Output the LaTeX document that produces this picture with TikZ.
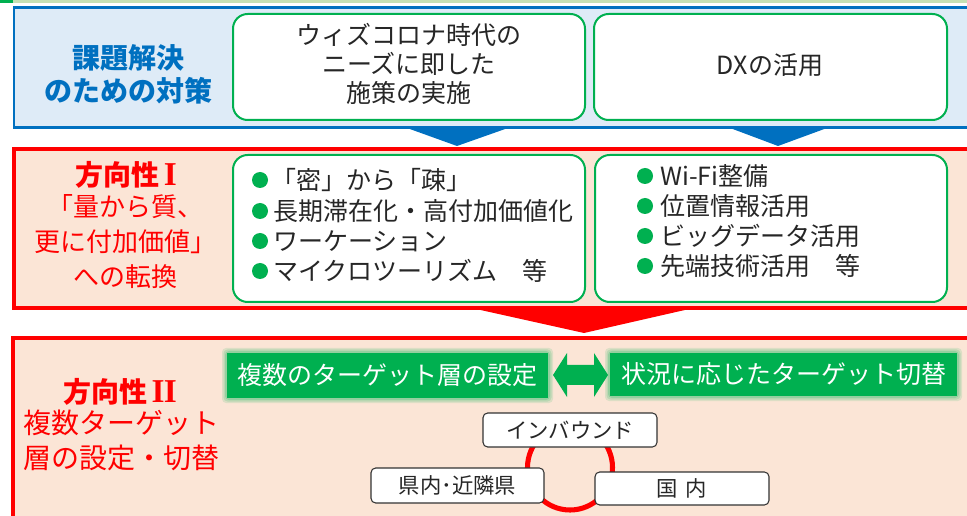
\documentclass[tikz,border=0pt]{standalone}
\usepackage{fontspec}
\setmainfont{Noto Sans CJK JP}
\newfontfamily\numfont{Liberation Serif}
\definecolor{cblue}{HTML}{0070C0}
\definecolor{cbluefill}{HTML}{DEEBF7}
\definecolor{cred}{HTML}{FF0000}
\definecolor{cpeach}{HTML}{FBE5D6}
\definecolor{cgreen}{HTML}{00B050}
\definecolor{clgreen}{HTML}{C5E0B4}
\definecolor{cdark}{HTML}{262626}
\newcommand{\romnum}[1]{{\numfont\bfseries\fontsize{25}{25}\selectfont #1}}
\begin{document}
\begin{tikzpicture}[x=0.75pt,y=-0.75pt,
  panelblue/.style={draw=cblue, line width=2.2pt, fill=cbluefill},
  panelred/.style={draw=cred, line width=2.5pt, fill=cpeach},
  gbox/.style={draw=cgreen, line width=1.5pt, fill=white, rounded corners=11pt, inner sep=0pt},
  bodytext/.style={text=cdark, font=\fontsize{18.75}{21.75}\selectfont, inner sep=0pt},
  bullettext/.style={bodytext, anchor=west},
  bdot/.style={fill=cgreen, draw=none, circle, minimum size=12pt, inner sep=0pt},
  cyc/.style={draw=black!80, line width=0.8pt, fill=white, rounded corners=3.5pt, inner sep=0pt,
     minimum width=130.5pt, minimum height=25.5pt, text=cdark, font=\fontsize{16}{18}\selectfont},
  glowbox/.style={fill=cgreen, inner sep=0pt, text=white, font=\fontsize{18.75}{21}\selectfont}
]
\useasboundingbox (0,0) rectangle (967,516);
\clip (0,0) rectangle (967,516);

% top bar
\fill[cgreen] (0,0) rectangle (13,3);
\fill[clgreen] (13,0) rectangle (967,3);

% ===== blue panel =====
\draw[panelblue] (14,7.5) rectangle (980,127.5);
\node[cblue, font=\fontsize{21}{24.75}\selectfont\bfseries, align=center, inner sep=0pt] (title0) at (128,74.5) {課題解決\\のための対策};
\node[gbox, minimum width=264pt, minimum height=79.5pt] (box1) at (409,67) {};
\node[bodytext, align=center] (box1t) at (409,64) {ウィズコロナ時代の\\ニーズに即した\\施策の実施};
\node[gbox, minimum width=264.75pt, minimum height=79.5pt] (box2) at (770.5,67) {};
\node[bodytext] (box2t) at (770,65) {DXの活用};

% blue arrows
\fill[cblue] (407,128) -- (508,128) -- (457,146) -- cycle;
\fill[cblue] (730,128) -- (827,128) -- (778,146) -- cycle;

% ===== red panel I =====
\draw[panelred] (14,149) rectangle (980,308);
\node[cred, font=\fontsize{21}{24}\selectfont\bfseries, inner sep=0pt] (title1) at (126,175) {方向性\,\romnum{I}};
\node[cred, font=\fontsize{19.5}{26.25}\selectfont, align=center, inner sep=0pt] (sub1) at (125,242) {「量から質、\\更に付加価値」\\への転換};
\node[gbox, minimum width=264pt, minimum height=110.25pt] (box3) at (409,228.5) {};
\node[gbox, minimum width=264pt, minimum height=110.25pt] (box4) at (771,228.5) {};

\node[bdot] (d31) at (260,180) {};
\node[bdot] (d32) at (260,211) {};
\node[bdot] (d33) at (260,241) {};
\node[bdot] (d34) at (260,271) {};
\node[bullettext] (l31) at (271,180) {「密」から「疎」};
\node[bullettext] (l32) at (273,211) {長期滞在化・高付加価値化};
\node[bullettext] (l33) at (273,241) {ワーケーション};
\node[bullettext] (l34) at (273,271) {マイクロツーリズム　等};

\node[bdot] (d41) at (645,176) {};
\node[bdot] (d42) at (645,206) {};
\node[bdot] (d43) at (645,236) {};
\node[bdot] (d44) at (645,266) {};
\node[bullettext] (l41) at (660,176) {Wi-Fi整備};
\node[bullettext] (l42) at (660,206) {位置情報活用};
\node[bullettext] (l43) at (660,236) {ビッグデータ活用};
\node[bullettext] (l44) at (660,266) {先端技術活用　等};

% red arrow
\fill[cred] (467,307) -- (698,307) -- (584,333) -- cycle;

% ===== red panel II =====
\draw[panelred] (13,338) rectangle (980,535);
\node[cred, font=\fontsize{21}{24}\selectfont\bfseries, inner sep=0pt] (title2) at (120,392) {方向性\,\romnum{I\kern-0.5ptI}};
\node[cred, font=\fontsize{21}{26.25}\selectfont, align=center, inner sep=0pt] (sub2) at (121,440.5) {複数ターゲット\\層の設定・切替};

% glow boxes
\foreach \e/\o in {5/0.12,3.5/0.15,2/0.2}{
  \fill[cgreen, opacity=\o, rounded corners=3pt] (227-\e,353-\e) rectangle (548+\e,398+\e);
  \fill[cgreen, opacity=\o, rounded corners=3pt] (610-\e,353-\e) rectangle (957+\e,396+\e);
}
\node[glowbox, minimum width=240.75pt, minimum height=33.75pt] (g1) at (387.5,375.5) {複数のターゲット層の設定};
\node[glowbox, minimum width=260.25pt, minimum height=32.25pt] (g2) at (783.5,374.5) {状況に応じたターゲット切替};

% double arrow
\fill[cgreen] (553,375) -- (567,353) -- (567,365) -- (594,365) -- (594,353) -- (608,375)
  -- (594,397) -- (594,385) -- (567,385) -- (567,397) -- cycle;
\coordinate (garrowL) at (553,375);
\coordinate (garrowR) at (608,375);

% cycle
\draw[cred, line width=3.8pt] (570,467.5) circle[radius=42.5];
\node[cyc] (inb) at (570,430) {インバウンド};
\node[cyc, minimum height=26.25pt, minimum width=129.75pt] (ken) at (457.5,485.5) {県内･近隣県};
\node[cyc, minimum height=24.75pt] (koku) at (682,488.5) {国\hspace{0.35em}内};
\end{tikzpicture}
\end{document}
